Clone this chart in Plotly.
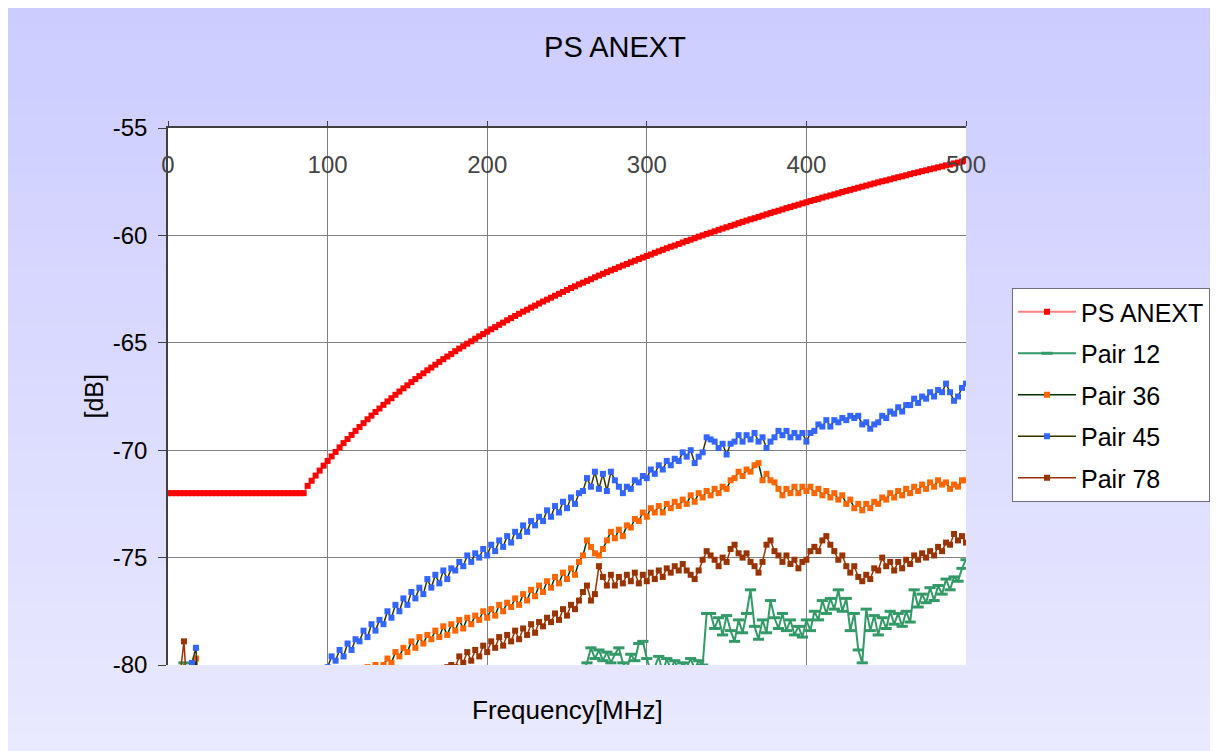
import numpy as np
import plotly.graph_objects as go

# ---------------- data ----------------
freq = np.arange(0, 500.01, 2.5)  # MHz, measurement grid

ps_anext = [
    -72.0, -72.0, -72.0, -72.0, -72.0, -72.0, -72.0, -72.0,
    -72.0, -72.0, -72.0, -72.0, -72.0, -72.0, -72.0, -72.0,
    -72.0, -72.0, -72.0, -72.0, -72.0, -72.0, -72.0, -72.0,
    -72.0, -72.0, -72.0, -72.0, -72.0, -72.0, -72.0, -72.0,
    -72.0, -72.0, -72.0, -71.66, -71.42, -71.18, -70.95, -70.72,
    -70.50, -70.29, -70.08, -69.87, -69.67, -69.48, -69.29, -69.10,
    -68.92, -68.74, -68.56, -68.39, -68.22, -68.06, -67.89, -67.73,
    -67.58, -67.42, -67.27, -67.12, -66.98, -66.83, -66.69, -66.55,
    -66.42, -66.28, -66.15, -66.02, -65.89, -65.76, -65.64, -65.52,
    -65.39, -65.27, -65.16, -65.04, -64.93, -64.81, -64.70, -64.59,
    -64.48, -64.37, -64.27, -64.16, -64.06, -63.95, -63.85, -63.75,
    -63.65, -63.55, -63.46, -63.36, -63.27, -63.17, -63.08, -62.99,
    -62.90, -62.81, -62.72, -62.63, -62.54, -62.45, -62.37, -62.28,
    -62.20, -62.12, -62.04, -61.95, -61.87, -61.79, -61.71, -61.63,
    -61.56, -61.48, -61.40, -61.33, -61.25, -61.18, -61.10, -61.03,
    -60.96, -60.89, -60.81, -60.74, -60.67, -60.60, -60.53, -60.47,
    -60.40, -60.33, -60.26, -60.20, -60.13, -60.06, -60.00, -59.93,
    -59.87, -59.81, -59.74, -59.68, -59.62, -59.56, -59.50, -59.43,
    -59.37, -59.31, -59.25, -59.20, -59.14, -59.08, -59.02, -58.96,
    -58.90, -58.85, -58.79, -58.73, -58.68, -58.62, -58.57, -58.51,
    -58.46, -58.40, -58.35, -58.30, -58.24, -58.19, -58.14, -58.09,
    -58.04, -57.98, -57.93, -57.88, -57.83, -57.78, -57.73, -57.68,
    -57.63, -57.58, -57.53, -57.48, -57.44, -57.39, -57.34, -57.29,
    -57.25, -57.20, -57.15, -57.10, -57.06, -57.01, -56.97, -56.92,
    -56.88, -56.83, -56.79, -56.74, -56.70, -56.65, -56.61, -56.56,
    -56.52,
]

pair12 = [
    -90, -89, -86, -82, -79.9, -83, -87, -89,
    -90, -91, -91, -91, -91, -91, -91, -91,
    -90.8, -90.6, -90.4, -90.2, -90, -89.8, -89.6, -89.4,
    -89.2, -89, -88.8, -88.6, -88.4, -88.2, -88, -87.8,
    -87.6, -87.4, -87.2, -87, -86.8, -86.6, -86.4, -86.2,
    -86, -85.8, -85.6, -85.4, -85.2, -85, -84.8, -84.6,
    -84.4, -84.2, -84, -83.8, -83.6, -83.4, -83.2, -83,
    -82.8, -82.6, -82.4, -82.3, -82.2, -82.1, -82, -81.9,
    -81.8, -81.7, -81.6, -81.5, -81.4, -81.3, -81.2, -81.1,
    -81.1, -81.0, -81.0, -80.9, -80.9, -80.8, -80.8, -80.7,
    -80.7, -80.6, -80.6, -80.5, -80.5, -80.4, -80.4, -80.4,
    -80.3, -80.3, -80.3, -80.2, -80.4, -80.2, -80.3, -80.2,
    -80.3, -80.2, -80.4, -80.2, -80.3, -80.1, -80.2, -80.1,
    -80.3, -79.9, -79.2, -79.7, -79.3, -79.8, -79.4, -79.9,
    -79.5, -79.2, -79.9, -80.2, -79.5, -79.8, -79.0, -78.9,
    -79.7, -80.3, -80.1, -79.6, -80.4, -79.7, -80.2, -79.8,
    -80.3, -79.9, -80.1, -79.7, -80.2, -79.8, -80.0, -77.6,
    -77.6, -78.3, -77.8, -78.6, -77.7, -78.4, -78.9, -77.9,
    -78.5, -77.6, -76.5, -78.2, -78.8, -77.9, -78.5, -77.0,
    -77.8, -78.3, -77.6, -78.4, -77.9, -78.6, -78.2, -78.7,
    -77.9, -78.4, -77.5, -77.9, -77.0, -77.6, -76.9, -77.4,
    -76.5, -77.5, -76.9, -78.4, -77.6, -79.3, -79.9, -77.4,
    -78.4, -77.7, -78.6, -77.8, -78.3, -77.5, -78.1, -77.6,
    -78.2, -77.5, -78.0, -76.5, -77.3, -76.7, -77.1, -76.4,
    -77.0, -76.3, -76.7, -76.0, -76.5, -75.9, -76.1, -75.5,
    -75.1,
]

pair36 = [
    -88, -87, -86, -84, -82, -81.5, -80.6, -79.7,
    -83, -86, -88, -88.5, -88.5, -88.3, -88.1, -87.9,
    -87.7, -87.5, -87.2, -87.0, -86.8, -86.5, -86.3, -86.0,
    -85.8, -85.5, -85.3, -85.0, -84.8, -84.5, -84.3, -84.0,
    -83.8, -83.5, -83.3, -83.0, -82.8, -82.5, -82.3, -82.0,
    -81.8, -81.6, -80.2, -81.4, -81.2, -81.0, -80.9, -80.7,
    -80.6, -80.3, -80.1, -80.4, -80.0, -80.3, -80.0, -79.7,
    -79.9, -79.4, -79.6, -79.2, -79.4, -78.9, -79.2, -78.7,
    -79.0, -78.6, -78.8, -78.4, -78.7, -78.2, -78.6, -78.1,
    -78.4, -77.9, -78.3, -77.8, -78.1, -77.7, -77.9, -77.5,
    -77.8, -77.4, -77.7, -77.2, -77.5, -77.1, -77.3, -76.9,
    -77.2, -76.7, -77.0, -76.5, -76.8, -76.3, -76.6, -76.1,
    -76.4, -75.9, -76.2, -75.7, -76.0, -75.5, -75.8, -75.2,
    -74.9, -74.2, -74.5, -74.8, -74.9, -74.6, -74.2, -73.8,
    -74.1, -73.7, -74.0, -73.5, -73.6, -73.2, -73.3, -72.9,
    -73.1, -72.7, -72.9, -72.6, -72.9, -72.5, -72.7, -72.4,
    -72.6, -72.3, -72.5, -72.1, -72.4, -72.0, -72.2, -71.9,
    -72.1, -71.8, -72.0, -71.7, -71.8, -71.4, -71.3, -71.0,
    -71.2, -70.9, -71.0, -70.7, -70.6, -71.4, -71.1, -71.4,
    -71.5, -71.8, -72.1, -71.8, -72.0, -71.7, -72.0, -71.7,
    -71.9, -71.7, -72.0, -71.8, -72.1, -71.9, -72.2, -72.0,
    -72.3, -72.1, -72.5, -72.3, -72.7, -72.5, -72.8, -72.5,
    -72.7, -72.4, -72.5, -72.2, -72.3, -72.0, -72.2, -71.9,
    -72.1, -71.8, -72.0, -71.7, -71.9, -71.6, -71.8, -71.5,
    -71.7, -71.4, -71.6, -71.5, -71.8, -71.6, -71.7, -71.4,
    -71.4,
]

pair45 = [
    -86, -85, -84.5, -82, -80.3, -81, -79.9, -79.2,
    -82.5, -84, -85, -85.5, -86, -85.8, -85.6, -85.4,
    -85.2, -85, -84.8, -84.5, -84.3, -84.1, -83.9, -83.7,
    -83.5, -83.3, -83.1, -82.9, -82.7, -82.5, -82.3, -82.1,
    -81.9, -81.7, -81.5, -81.2, -81.0, -80.8, -80.6, -80.4,
    -80.1, -79.6, -79.8, -79.3, -79.6, -79.0, -79.3, -78.8,
    -78.9, -78.4, -78.7, -78.1, -78.4, -77.9, -78.1, -77.5,
    -77.8, -77.2, -77.5, -76.9, -77.2, -76.6, -76.9, -76.4,
    -76.7, -76.0, -76.4, -75.8, -76.2, -75.6, -76.0, -75.5,
    -75.6, -75.2, -75.4, -74.9, -75.2, -74.8, -75.0, -74.6,
    -74.9, -74.4, -74.7, -74.2, -74.5, -74.0, -74.3, -73.8,
    -74.0, -73.5, -73.8, -73.3, -73.5, -73.1, -73.3, -72.8,
    -73.1, -72.6, -72.9, -72.4, -72.7, -72.2, -72.5, -72.0,
    -71.9, -71.3, -71.7, -71.0, -71.8, -71.1, -71.9, -71.0,
    -71.4, -71.7, -72.0, -71.7, -71.8, -71.4, -71.5, -71.2,
    -71.3, -70.9, -71.1, -70.7, -70.9, -70.5, -70.7, -70.4,
    -70.5, -70.1, -70.3, -70.0, -70.6, -70.3, -70.1, -69.4,
    -69.5, -69.6, -69.9, -69.7, -70.2, -69.7, -69.6, -69.3,
    -69.6, -69.3, -69.5, -69.2, -69.6, -69.4, -69.9, -69.6,
    -69.4, -69.1, -69.3, -69.1, -69.4, -69.2, -69.4, -69.2,
    -69.6, -69.2, -69.1, -68.8, -68.9, -68.6, -68.9, -68.6,
    -68.7, -68.5, -68.6, -68.4, -68.5, -68.4, -68.8, -68.7,
    -69.0, -68.8, -68.7, -68.4, -68.5, -68.2, -68.3, -68.0,
    -68.2, -67.9, -67.9, -67.6, -67.8, -67.5, -67.6, -67.3,
    -67.5, -67.2, -67.3, -66.9, -67.3, -67.7, -67.5, -67.1,
    -66.9,
]

pair78 = [
    -87, -86, -84, -80.5, -78.9, -82, -85, -86,
    -87, -88, -88.5, -88.8, -89, -89, -88.8, -88.6,
    -88.4, -88.2, -88.0, -87.8, -87.6, -87.4, -87.2, -87.0,
    -86.8, -86.6, -86.4, -86.2, -86.0, -85.8, -85.6, -85.4,
    -85.2, -85.0, -84.8, -84.6, -84.4, -84.2, -84.0, -83.8,
    -83.6, -83.4, -83.2, -83.0, -82.8, -82.6, -82.4, -82.2,
    -82.0, -81.9, -81.8, -81.7, -81.6, -81.5, -81.4, -81.3,
    -81.2, -81.1, -81.0, -80.9, -80.8, -80.7, -80.6, -80.5,
    -80.5, -80.4, -80.4, -80.3, -80.3, -80.2, -80.1, -80.0,
    -80.1, -79.6, -79.9, -79.4, -79.8, -79.3, -79.6, -79.1,
    -79.4, -78.9, -79.2, -78.7, -79.1, -78.6, -78.9, -78.4,
    -78.8, -78.3, -78.6, -78.1, -78.5, -78.0, -78.2, -77.8,
    -78.0, -77.6, -77.9, -77.4, -77.7, -77.2, -77.4, -77.0,
    -76.6, -76.3, -77.0, -76.7, -75.4, -75.9, -76.3, -75.8,
    -76.3, -75.9, -76.2, -75.8, -76.1, -75.7, -76.2, -75.8,
    -76.1, -75.7, -76.0, -75.6, -75.9, -75.5, -75.7, -75.4,
    -75.6, -75.3, -75.6, -75.8, -76.0, -75.6, -75.1, -74.7,
    -74.9, -75.1, -75.4, -75.0, -75.2, -74.6, -74.4, -74.8,
    -75.0, -74.8, -75.2, -75.4, -75.7, -75.2, -74.4, -74.2,
    -74.7, -74.9, -75.2, -74.9, -75.3, -75.1, -75.5, -75.2,
    -75.1, -74.7, -74.5, -74.7, -74.2, -74.0, -74.4, -74.7,
    -75.1, -74.9, -75.4, -75.7, -75.4, -75.9, -76.1, -75.8,
    -76.0, -75.5, -75.6, -75.0, -75.4, -75.2, -75.6, -75.2,
    -75.5, -75.1, -75.3, -74.9, -75.1, -74.8, -75.0, -74.7,
    -74.9, -74.5, -74.7, -74.3, -74.4, -73.9, -74.2, -74.0,
    -74.3,
]

for s in (ps_anext, pair12, pair36, pair45, pair78):
    assert len(s) == len(freq), len(s)

y_ticks = [-80, -75, -70, -65, -60, -55]
y_ticktext = ["-80", "-75", "-70", "-65", "-60", "-55"]
x_ticks = [0, 100, 200, 300, 400, 500]

FONT = "Liberation Sans, Arial, sans-serif"

fig = go.Figure()

series = [
    ("PS ANEXT", ps_anext, "#FF8080", 2, "square", 6, "#FF0000", 0),
    ("Pair 12", pair12, "#339966", 2, "line-ew", 8, "#339966", 3),
    ("Pair 36", pair36, "#003300", 1.5, "square", 6, "#FF6600", 0),
    ("Pair 45", pair45, "#333300", 1.5, "square", 6, "#3366FF", 0),
    ("Pair 78", pair78, "#993300", 1.5, "square", 6, "#993300", 0),
]
for name, ys, lc, lw, sym, ms, mc, mlw in series:
    marker = dict(symbol=sym, size=ms, color=mc)
    if mlw:
        marker["line"] = dict(color=mc, width=mlw)
    else:
        marker["line"] = dict(width=0)
    fig.add_trace(go.Scatter(
        x=freq, y=ys, name=name, mode="lines+markers",
        line=dict(color=lc, width=lw), marker=marker,
        legendgroup=name,
    ))

# page has an 8px body margin, so the figure is shifted by 8px
OFF = 8
W, H = 1218 - OFF, 751 - OFF
L, T = 168 - OFF, 128 - OFF
PW, PH = 798, 537
R = W - L - PW
B = H - T - PH

def px2x(px):  # page px -> paper x
    return (px - OFF - L) / PW

def py2y(py):  # page py -> paper y
    return (T + PH - (py - OFF)) / PH

shapes = []
n = 40
top_page = 6
for i in range(n):
    y0p = top_page + (751 - top_page) * i / n
    y1p = top_page + (751 - top_page) * (i + 1) / n
    t = (i + 0.5) / n
    r = int(round(204 + (233 - 204) * t))
    col = f"rgb({r},{r},255)"
    shapes.append(dict(type="rect", xref="paper", yref="paper",
                       x0=px2x(top_page), x1=px2x(1222),
                       y0=py2y(y1p) - 0.002, y1=py2y(y0p),
                       fillcolor=col, line=dict(width=0), layer="below"))
shapes.append(dict(type="rect", xref="paper", yref="paper", x0=0, x1=1, y0=0, y1=1,
                   fillcolor="white", line=dict(width=0), layer="below"))

fig.update_layout(
    width=W, height=H,
    margin=dict(l=L, r=R, t=T, b=B, autoexpand=False),
    paper_bgcolor="white", plot_bgcolor="white",
    shapes=shapes,
    font=dict(family=FONT, size=24, color="black"),
    title=dict(text="PS ANEXT", x=(615 - OFF) / W, xref="container", xanchor="center",
               y=1 - (47 - OFF) / H, yref="container", yanchor="middle",
               font=dict(size=29, family=FONT)),
    showlegend=True,
    legend=dict(x=px2x(1012), xanchor="left", y=py2y(288), yanchor="top",
                bgcolor="white", bordercolor="#6E6E80", borderwidth=1,
                font=dict(size=25, family=FONT), tracegroupgap=6,
                itemwidth=58, traceorder="grouped"),
    annotations=[
        dict(text="Frequency[MHz]", xref="paper", yref="paper", x=0.5, y=py2y(710),
             xanchor="center", yanchor="middle", showarrow=False,
             font=dict(size=26, family=FONT)),
        dict(text="[dB]", xref="paper", yref="paper", x=px2x(93), y=0.5,
             xanchor="center", yanchor="middle", showarrow=False, textangle=-90,
             font=dict(size=25, family=FONT)),
    ],
)

fig.update_xaxes(
    range=[0, 500], tickvals=x_ticks, side="top",
    ticklabelposition="inside", ticklabeloverflow="allow", ticklabelstandoff=30,
    ticks="outside", ticklen=5, tickcolor="#404040",
    showline=True, linecolor="#404040", linewidth=1.5,
    showgrid=True, gridcolor="#808080", gridwidth=1, zeroline=False,
    tickfont=dict(size=24, family=FONT),
)
fig.update_yaxes(
    range=[-80, -55], tickvals=y_ticks, ticktext=y_ticktext,
    ticks="outside", ticklen=8, tickcolor="#404040",
    showline=True, linecolor="#404040", linewidth=1.5,
    showgrid=True, gridcolor="#808080", gridwidth=1, zeroline=False,
    tickfont=dict(size=24, family=FONT), ticklabelstandoff=6,
)

fig.write_html("out.html")
